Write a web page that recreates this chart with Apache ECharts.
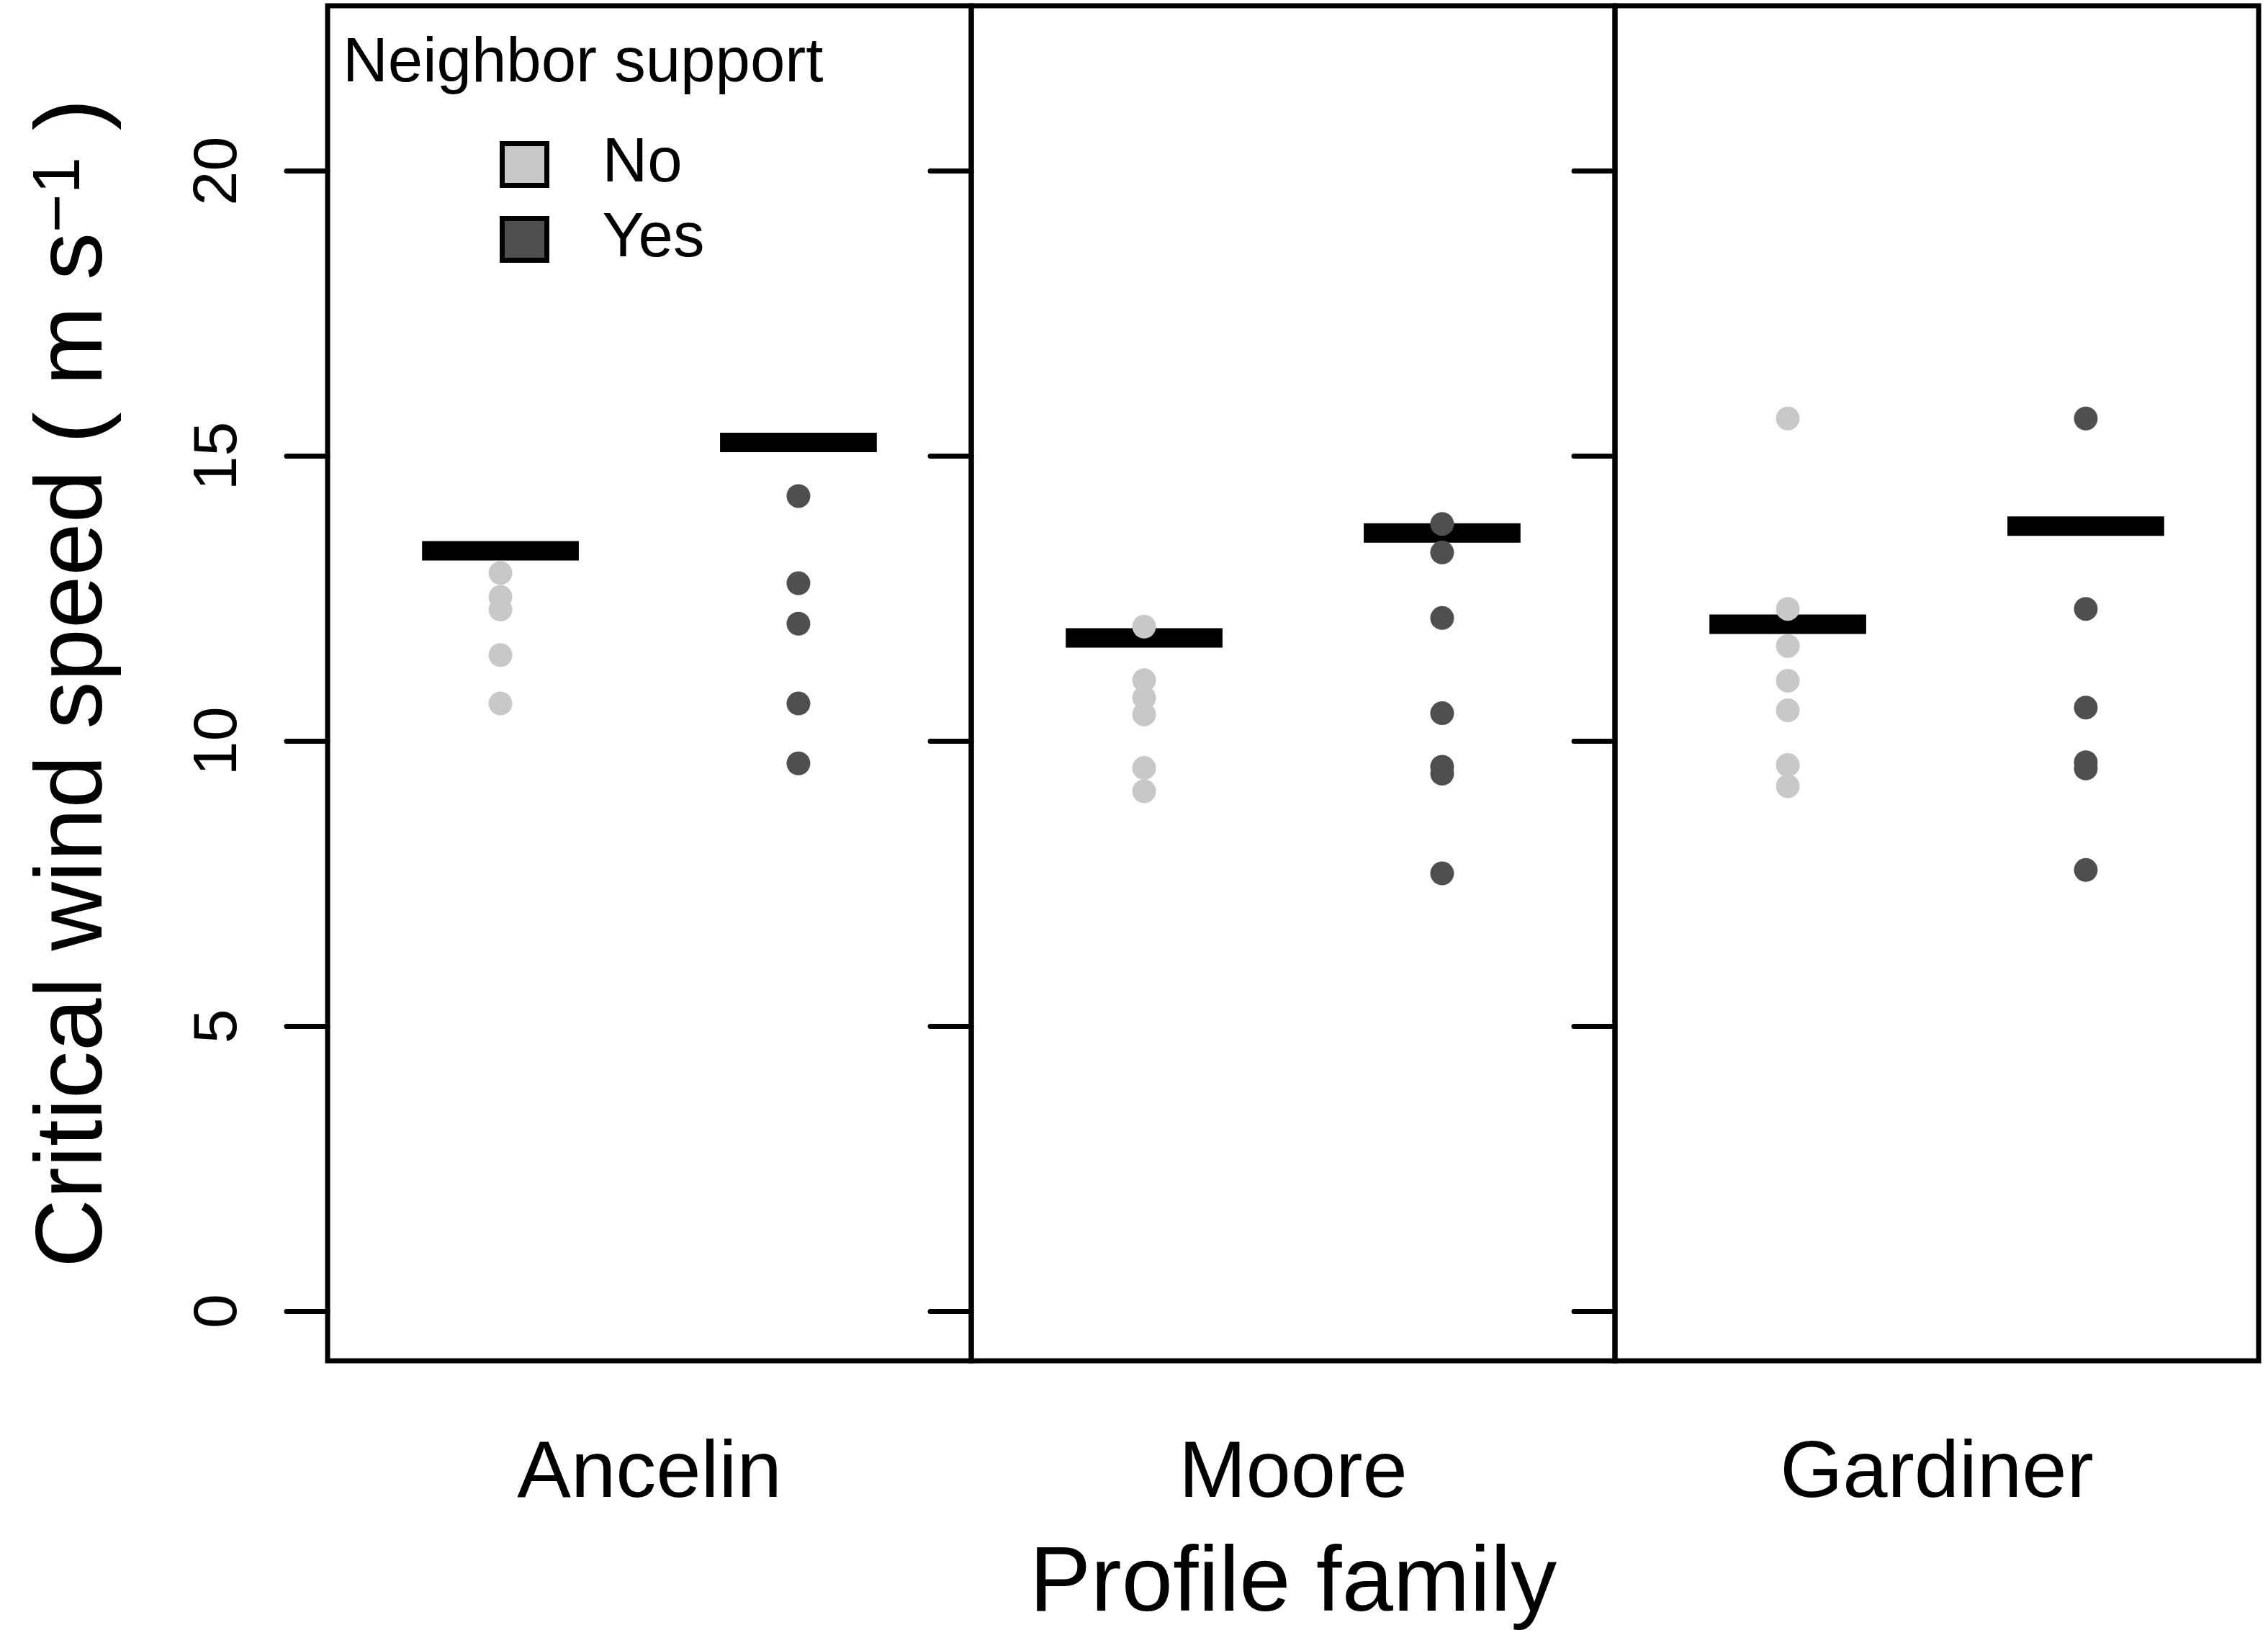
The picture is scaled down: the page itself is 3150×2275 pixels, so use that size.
<!DOCTYPE html>
<html>
<head>
<meta charset="utf-8">
<script src="https://cdn.jsdelivr.net/npm/echarts@6/dist/echarts.min.js"></script>
<style>
  html, body { margin: 0; padding: 0; background: #fff; }
  #chart { width: 3150px; height: 2275px; }
</style>
</head>
<body>
<div id="chart"></div>
<script>
// data
const panels = ['Ancelin', 'Moore', 'Gardiner'];
const groups = ['No', 'Yes'];
const yTicks = [0, 5, 10, 15, 20];
const noPoints = [
  [12.95, 12.53, 12.31, 11.51, 10.66],
  [12.01, 11.07, 10.76, 10.47, 9.53, 9.12],
  [15.66, 12.32, 11.67, 11.06, 10.54, 9.58, 9.21]
];
const yesPoints = [
  [14.30, 12.77, 12.06, 10.66, 9.61],
  [13.81, 13.31, 12.16, 10.49, 9.55, 9.43, 7.68],
  [15.66, 12.32, 10.59, 9.63, 9.52, 7.74]
];
const noBar = [13.34, 11.81, 12.05];
const yesBar = [15.24, 13.65, 13.77];

const font = 'Liberation Sans, Arial, sans-serif';
const colors = { No: '#c8c8c8', Yes: '#4f4f4f' };
const barHalf = 0.263;

const chart = echarts.init(document.getElementById('chart'));

const grids = [], xAxes = [], yAxes = [], series = [];
panels.forEach((p, i) => {
  grids.push({
    left: 455 + i * 894, top: 8, width: 894, height: 1882,
    show: true, borderColor: '#000', borderWidth: 7, backgroundColor: 'transparent'
  });
  xAxes.push({
    gridIndex: i, type: 'value', min: 0.42, max: 2.58,
    axisLine: { show: false }, axisTick: { show: false },
    axisLabel: { show: false }, splitLine: { show: false },
    name: p, nameLocation: 'middle', nameGap: 102,
    nameTextStyle: { fontFamily: font, fontSize: 112, color: '#000' }
  });
  yAxes.push({
    gridIndex: i, type: 'value', min: -0.87, max: 22.9,
    axisLine: { show: false },
    splitLine: { show: false },
    axisTick: {
      show: true, length: 57, customValues: yTicks,
      lineStyle: { color: '#000', width: 7, cap: 'round' }
    },
    axisLabel: {
      show: i === 0, customValues: yTicks, rotate: 90, margin: 108,
      fontFamily: font, fontSize: 86, color: '#000'
    },
    name: i === 0 ? '{a|Critical wind speed ( m s}{s|−1}{a| )}' : '',
    nameLocation: 'middle', nameGap: 284, nameRotate: 90,
    nameTextStyle: {
      rich: {
        a: { fontFamily: font, fontSize: 132, color: '#000' },
        s: { fontFamily: font, fontSize: 92, color: '#000', verticalAlign: 'top' }
      }
    }
  });
  series.push({
    type: 'custom', name: 'level', xAxisIndex: i, yAxisIndex: i, z: 2,
    data: [[1, noBar[i]], [2, yesBar[i]]],
    renderItem: (params, api) => {
      const x = api.value(0), y = api.value(1);
      const a = api.coord([x - barHalf, y]);
      const b = api.coord([x + barHalf, y]);
      return {
        type: 'line',
        shape: { x1: a[0], y1: a[1], x2: b[0], y2: b[1] },
        style: { stroke: '#000', lineWidth: 27, lineCap: 'butt' }
      };
    }
  });
  [noPoints[i], yesPoints[i]].forEach((vals, g) => {
    series.push({
      type: 'scatter', name: groups[g], xAxisIndex: i, yAxisIndex: i, z: 3,
      symbol: 'circle', symbolSize: 33,
      itemStyle: { color: colors[groups[g]], opacity: 1 },
      data: vals.map(v => [g + 1, v])
    });
  });
});

chart.setOption({
  backgroundColor: '#fff',
  animation: false,
  title: [
    {
      text: 'Neighbor support', left: 476, top: 46, padding: 0,
      textStyle: { fontFamily: font, fontSize: 87, fontWeight: 'normal', color: '#000' }
    },
    {
      text: 'Profile family', left: 1796, textAlign: 'center', top: 2138, padding: 0,
      textStyle: { fontFamily: font, fontSize: 128, fontWeight: 'normal', color: '#000' }
    }
  ],
  legend: {
    data: groups.map(g => ({ name: g, itemStyle: { borderColor: '#000', borderWidth: 7 } })),
    orient: 'vertical', left: 694, top: 185, padding: 0,
    icon: 'rect', itemWidth: 62, itemHeight: 58, itemGap: 17,
    textStyle: { fontFamily: font, fontSize: 87, color: '#000', padding: [0, 0, 0, 72] }
  },
  grid: grids,
  xAxis: xAxes,
  yAxis: yAxes,
  series: series
});
</script>
</body>
</html>
